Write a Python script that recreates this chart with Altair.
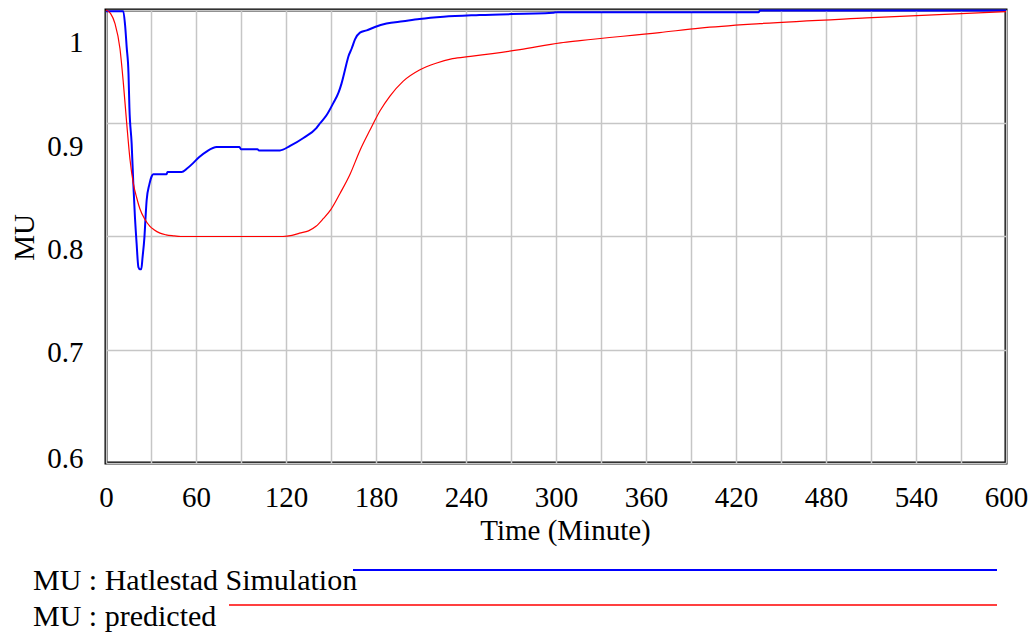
import altair as alt
import pandas as pd

# ---- data ----
sim_t = [0, 11.5, 12.7, 13.8, 15.0, 15.6, 17.1, 18.2, 19.3, 20.4, 21.6, 22.7, 23.5, 24.4,
         25.6, 26.5, 27.1, 28.9, 30.4, 31.5, 40.4, 41, 50.4, 54, 58.2, 62, 67, 73.8, 89,
         90, 101, 102, 116, 122.7, 131.6, 140.4, 142.7, 147, 151.6, 155, 157, 159.3, 161.6,
         163.8, 166, 169.3, 173.8, 179.3, 187, 198, 209, 225, 249, 298, 300, 435, 436, 600]
sim_mu = [0.999, 0.999, 0.987, 0.967, 0.944, 0.914, 0.882, 0.847, 0.817, 0.794, 0.773, 0.771,
          0.771, 0.782, 0.799, 0.820, 0.832, 0.846, 0.853, 0.855, 0.855, 0.857, 0.857, 0.860,
          0.865, 0.870, 0.875, 0.879, 0.879, 0.877, 0.877, 0.876, 0.876, 0.880, 0.887, 0.896,
          0.900, 0.907, 0.918, 0.927, 0.935, 0.947, 0.959, 0.966, 0.974, 0.980, 0.982, 0.985,
          0.988, 0.990, 0.992, 0.994, 0.9956, 0.9976, 0.998, 0.998, 0.9995, 0.9995]

pred_t = [0, 3, 6, 9.3, 11.6, 13.8, 16, 18.2, 20.5, 22.7, 26, 29.3, 32, 36, 40, 44.7, 50,
          118, 124, 129, 135, 140, 145, 150, 156, 162.7, 169.3, 176, 182.7, 189.3, 198, 209,
          220, 231, 243, 276, 303, 316, 369, 396, 436, 507, 600]
pred_mu = [1.0, 0.997, 0.988, 0.966, 0.935, 0.900, 0.868, 0.847, 0.834, 0.824, 0.815, 0.809,
           0.806, 0.803, 0.8015, 0.8006, 0.8, 0.8, 0.801, 0.803, 0.805, 0.809, 0.816, 0.824,
           0.838, 0.855, 0.876, 0.894, 0.911, 0.924, 0.937, 0.947, 0.953, 0.957, 0.959, 0.965,
           0.971, 0.973, 0.980, 0.984, 0.988, 0.993, 0.9985]

x_ticks = [0, 30, 60, 90, 120, 150, 180, 210, 240, 270, 300, 330, 360, 390, 420, 450, 480,
           510, 540, 570, 600]
y_ticks = [0.6, 0.7, 0.8, 0.9, 1.0]
series_names = ["MU : Hatlestad Simulation", "MU : predicted"]
series_colors = ["#0000ff", "#ff0000"]

FONT = "Liberation Serif"
FS = 30      # legend text
AFS = 29     # axis labels and titles

df = pd.concat([
    pd.DataFrame({"t": sim_t, "mu": sim_mu, "series": series_names[0]}),
    pd.DataFrame({"t": pred_t, "mu": pred_mu, "series": series_names[1]}),
], ignore_index=True)

x_enc = alt.X(
    "t:Q",
    scale=alt.Scale(domain=[0, 600], nice=False, zero=False),
    axis=alt.Axis(
        values=x_ticks,
        labelExpr="datum.value % 60 == 0 ? datum.label : ''",
        title="Time (Minute)",
        labelFlush=False,
        labelOverlap=False,
        labelBaseline="top",
        labelPadding=20,
        labelFont=FONT,
        titleFont=FONT,
        titleX=459,
        titleY=76,
        titleAlign="center",
        titleBaseline="alphabetic",
    ),
)
y_enc = alt.Y(
    "mu:Q",
    scale=alt.Scale(domain=[0.6, 1.0], nice=False, zero=False),
    axis=alt.Axis(
        values=y_ticks,
        format="~g",
        title="MU",
        labelFlush=False,
        labelOverlap=False,
        labelBaseline="middle",
        labelPadding=23,
        labelFont=FONT,
        titleFont=FONT,
        labelOffset={
            "condition": [
                {"test": "datum.value > 0.95", "value": 32},
                {"test": "datum.value > 0.85", "value": 23},
                {"test": "datum.value > 0.75", "value": 13},
                {"test": "datum.value > 0.65", "value": 3},
            ],
            "value": -5,
        },
        titleX=-73,
        titleY=227,
        titleAngle=270,
        titleAlign="center",
        titleBaseline="alphabetic",
    ),
)

lines = alt.Chart(df).mark_line(interpolate="monotone").encode(
    x=x_enc,
    y=y_enc,
    color=alt.Color("series:N", scale=alt.Scale(domain=series_names, range=series_colors), legend=None),
    strokeWidth=alt.StrokeWidth("series:N", scale=alt.Scale(domain=series_names, range=[2, 1.2]), legend=None),
)

def legend_entry(i, text_y, rule_x, rule_y, width):
    d = pd.DataFrame({"label": [series_names[i]]})
    txt = alt.Chart(d).mark_text(
        font=FONT, fontSize=FS, align="left", baseline="alphabetic", color="black"
    ).encode(text="label:N", x=alt.value(-73), y=alt.value(text_y))
    rule = alt.Chart(d).mark_rule(color=series_colors[i], strokeWidth=width).encode(
        x=alt.value(rule_x), x2=alt.value(891), y=alt.value(rule_y)
    )
    return txt, rule

t1, r1 = legend_entry(0, 580, 247, 560, 2)
t2, r2 = legend_entry(1, 616, 123, 595, 1.5)

chart = alt.layer(lines, t1, r1, t2, r2).properties(
    width=900,
    height=453,
    autosize=alt.AutoSizeParams(type="none"),
    padding={"left": 106, "top": 10, "right": 29, "bottom": 172},
    background="white",
).configure(
    font=FONT
).configure_view(
    stroke="black", strokeWidth=3
).configure_axis(
    grid=True,
    gridColor="#c6c6c6",
    gridWidth=1.5,
    domain=False,
    ticks=False,
    labelFont=FONT,
    labelFontSize=AFS,
    labelColor="black",
    titleFont=FONT,
    titleFontSize=AFS,
    titleFontWeight="normal",
    titleColor="black",
)

chart.save("out.html", embed_options={"renderer": "svg", "actions": False})
